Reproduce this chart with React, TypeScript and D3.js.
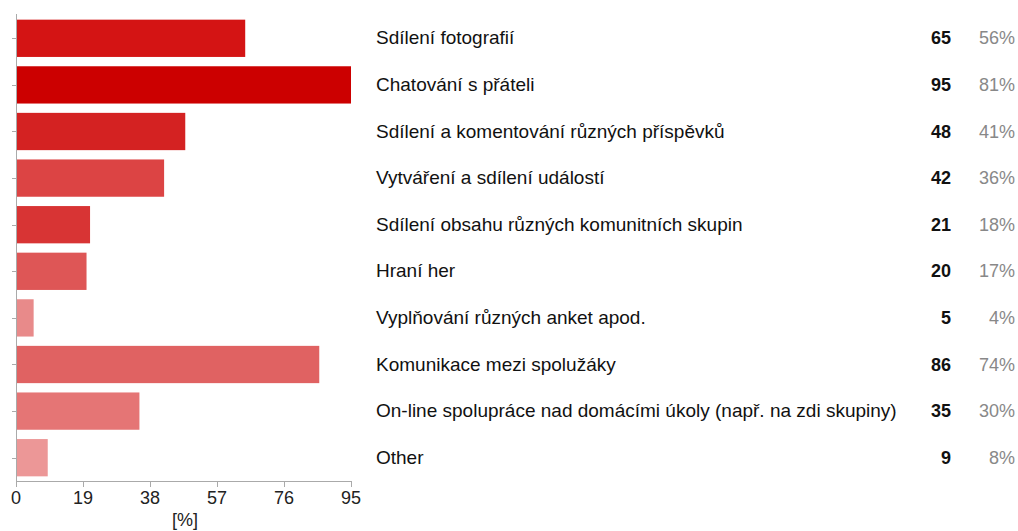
import React from "react";
import * as d3 from "d3";

const categories = [
  "Sdílení fotografií",
  "Chatování s přáteli",
  "Sdílení a komentování různých příspěvků",
  "Vytváření a sdílení událostí",
  "Sdílení obsahu různých komunitních skupin",
  "Hraní her",
  "Vyplňování různých anket apod.",
  "Komunikace mezi spolužáky",
  "On-line spolupráce nad domácími úkoly (např. na zdi skupiny)",
  "Other",
];
const counts = [65, 95, 48, 42, 21, 20, 5, 86, 35, 9];
const percents = ["56%", "81%", "41%", "36%", "18%", "17%", "4%", "74%", "30%", "8%"];
const barColors = [
  "#d41414", "#cc0000", "#d42222", "#dc4444", "#d83434",
  "#de5656", "#e88a8a", "#e06262", "#e57575", "#ec9797",
];
const xTicks = [0, 19, 38, 57, 76, 95];
const axisTitle = "[%]";

export default function App() {
  const W = 1018, H = 531;
  const x = d3.scaleLinear().domain([0, 95]).range([16, 351]);
  const y = d3.scaleBand<number>().domain(d3.range(categories.length)).range([15, 481]).paddingInner(0.2).paddingOuter(0.1);
  const axisColor = "#aaaaaa";
  const font = "'Liberation Sans', Arial, sans-serif";
  return (
    <svg width={W} height={H} style={{ position: "absolute", left: 0, top: 0, background: "#fff" }} fontFamily={font}>
      {categories.map((c, i) => (
        <rect key={"b" + i} x={x(0)} y={y(i)!} width={x(counts[i]) - x(0)} height={y.bandwidth()} fill={barColors[i]} />
      ))}
      <line x1={16.5} x2={16.5} y1={14} y2={481} stroke={axisColor} strokeWidth={1} />
      <line x1={16} x2={351.5} y1={481.5} y2={481.5} stroke={axisColor} strokeWidth={1} />
      {categories.map((c, i) => {
        const cy = Math.round(y(i)! + y.bandwidth() / 2) + 0.5;
        return <line key={"yt" + i} x1={12} x2={16} y1={cy} y2={cy} stroke={axisColor} />;
      })}
      {xTicks.map((t) => (
        <g key={"xt" + t}>
          <line x1={Math.round(x(t)) + 0.5} x2={Math.round(x(t)) + 0.5} y1={481} y2={487} stroke={axisColor} />
          <text x={x(t)} y={504} textAnchor="middle" fontSize={18} fill="#222">{t}</text>
        </g>
      ))}
      <text x={185} y={526} textAnchor="middle" fontSize={18} fill="#222">{axisTitle}</text>
      {categories.map((c, i) => {
        const cy = y(i)! + y.bandwidth() / 2 + 6;
        return (
          <g key={"l" + i}>
            <text x={376} y={cy} fontSize={19} fill="#111">{c}</text>
            <text x={951} y={cy} textAnchor="end" fontSize={18} fontWeight="bold" fill="#111">{counts[i]}</text>
            <text x={1015} y={cy} textAnchor="end" fontSize={18} fill="#888">{percents[i]}</text>
          </g>
        );
      })}
    </svg>
  );
}
